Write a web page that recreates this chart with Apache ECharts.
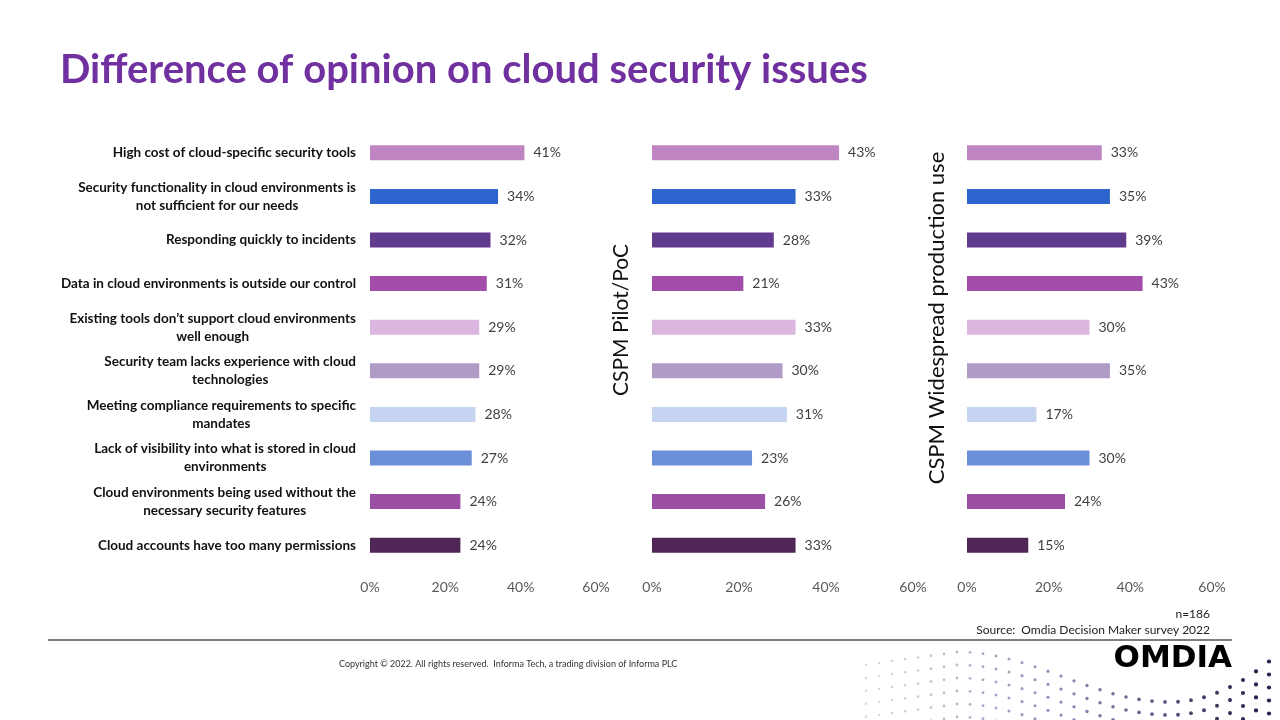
<!DOCTYPE html>
<html>
<head>
<meta charset="utf-8">
<title>Difference of opinion on cloud security issues</title>
<script src="https://cdn.jsdelivr.net/npm/echarts@6/dist/echarts.min.js"></script>
<style>
  html, body { margin: 0; padding: 0; background: #fff; }
  #chart { width: 1280px; height: 720px; }
</style>
</head>
<body>
<div id="chart"></div>
<script>
  // categories, top to bottom
  var categories = [
    'High cost of cloud-specific security tools',
    'Security functionality in cloud environments is\nnot sufficient for our needs',
    'Responding quickly to incidents',
    'Data in cloud environments is outside our control',
    'Existing tools don\u2019t support cloud environments\nwell enough',
    'Security team lacks experience with cloud\ntechnologies',
    'Meeting compliance requirements to specific\nmandates',
    'Lack of visibility into what is stored in cloud\nenvironments',
    'Cloud environments being used without the\nnecessary security features',
    'Cloud accounts have too many permissions'
  ];
  var allValues = [41, 34, 32, 31, 29, 29, 28, 27, 24, 24];
  var pilotValues = [43, 33, 28, 21, 33, 30, 31, 23, 26, 33];
  var prodValues = [33, 35, 39, 43, 30, 35, 17, 30, 24, 15];
  var xTicks = [0, 20, 40, 60];
  var panelTitles = ['', 'CSPM Pilot/PoC', 'CSPM Widespread production use'];

  var barColors = ['#BF85C3', '#2E64CE', '#613B8E', '#A34DAA', '#DBB7DF',
                   '#B09BC7', '#C5D4F0', '#6A8FD8', '#9B4FA5', '#502656'];
  var FONT = 'Lato, "Open Sans", sans-serif';

  var panels = [
    { left: 370, width: 226, values: allValues },
    { left: 652, width: 261, values: pilotValues },
    { left: 967, width: 245, values: prodValues }
  ];

  var chart = echarts.init(document.getElementById('chart'), null, { renderer: 'canvas' });

  var grids = [], xAxes = [], yAxes = [], series = [];
  panels.forEach(function (p, i) {
    grids.push({ left: p.left, width: p.width, top: 131, height: 436 });
    xAxes.push({
      type: 'value', gridIndex: i,
      min: xTicks[0], max: xTicks[xTicks.length - 1], interval: 20,
      axisLine: { show: false }, axisTick: { show: false }, splitLine: { show: false },
      axisLabel: { formatter: '{value}%', color: '#595959', fontSize: 14, fontFamily: FONT, margin: 13 }
    });
    yAxes.push({
      type: 'category', gridIndex: i, inverse: true, data: categories,
      axisLine: { show: false }, axisTick: { show: false },
      axisLabel: {
        show: i === 0, margin: 14, color: '#111',
        formatter: function (v) {
          return v.split('\n').map(function (s) { return '{c|' + s + '}'; }).join('\n');
        },
        rich: { c: { align: 'center', fontSize: 13.5, fontWeight: 'bold', fontFamily: FONT, color: '#111', lineHeight: 18 } }
      }
    });
    series.push({
      type: 'bar', xAxisIndex: i, yAxisIndex: i, barWidth: 15,
      data: p.values.map(function (v, k) {
        return { value: v, itemStyle: { color: barColors[k] } };
      }),
      label: {
        show: true, position: 'right', distance: 9,
        formatter: '{c}%', color: '#404040', fontSize: 14, fontFamily: FONT
      },
      silent: true
    });
  });

  // decorative dotted wave, bottom right
  function mix(a, b, t) {
    return [0, 1, 2].map(function (k) { return Math.round(a[k] + (b[k] - a[k]) * t); });
  }
  function waveY(x) {
    if (x < 957) return (957 - x) * 0.14;
    if (x <= 1170) return 50 * (1 - Math.cos(Math.PI * (x - 957) / 213)) / 2;
    var d = (x - 1170) / 110;
    return 50 - 50 * d * d;
  }
  var dots = [];
  for (var r = 0; r < 6; r++) {
    for (var x = 866; x <= 1282; x += 13) {
      var y = 652 + r * 13 + waveY(x);
      if (y > 722 || y < 640) continue;
      if (x > 1100 && x < 1240 && y < 680) continue;
      var t = Math.max(0, Math.min(1, (x - 880) / 380));
      var c = t < 0.5 ? mix([215, 215, 220], [150, 130, 180], t * 2) : mix([150, 130, 180], [45, 30, 75], (t - 0.5) * 2);
      dots.push({
        type: 'circle', silent: true,
        shape: { cx: x, cy: y, r: 1.2 + t * 0.9 },
        style: { fill: 'rgb(' + c.join(',') + ')' }
      });
    }
  }

  chart.setOption({
    animation: false,
    backgroundColor: '#fff',
    title: {
      text: 'Difference of opinion on cloud security issues',
      left: 55, top: 45,
      textStyle: { color: '#7030A0', fontSize: 40, fontWeight: 'bold', fontFamily: FONT }
    },
    grid: grids,
    xAxis: xAxes,
    yAxis: yAxes,
    series: series,
    graphic: [
      {
        type: 'text', x: 621, y: 320, rotation: Math.PI / 2,
        style: { text: panelTitles[1], fill: '#111', fontSize: 21, fontFamily: FONT, textAlign: 'center', textVerticalAlign: 'middle' }
      },
      {
        type: 'text', x: 937, y: 318, rotation: Math.PI / 2,
        style: { text: panelTitles[2], fill: '#111', fontSize: 22, fontFamily: FONT, textAlign: 'center', textVerticalAlign: 'middle' }
      },
      {
        type: 'text', x: 1210, y: 614,
        style: { text: 'n=186', fill: '#222', fontSize: 12, fontFamily: FONT, textAlign: 'right', textVerticalAlign: 'middle' }
      },
      {
        type: 'text', x: 1210, y: 630,
        style: { text: 'Source:  Omdia Decision Maker survey 2022', fill: '#222', fontSize: 12, fontFamily: FONT, textAlign: 'right', textVerticalAlign: 'middle' }
      },
      {
        type: 'line', shape: { x1: 48, y1: 640, x2: 1232, y2: 640 },
        style: { stroke: '#000', lineWidth: 1 }
      },
      {
        type: 'text', x: 339, y: 664,
        style: { text: 'Copyright \u00a9 2022. All rights reserved.  Informa Tech, a trading division of Informa PLC', fill: '#333', fontSize: 9, fontFamily: FONT, textVerticalAlign: 'middle' }
      },
      {
        type: 'group', children: dots
      },
      {
        type: 'text', x: 1232, y: 659,
        style: { text: 'OMDIA', fill: '#000', fontSize: 31, fontWeight: 900, fontFamily: '"DejaVu Sans", sans-serif', textAlign: 'right', textVerticalAlign: 'middle' }
      }
    ]
  });
</script>
</body>
</html>
